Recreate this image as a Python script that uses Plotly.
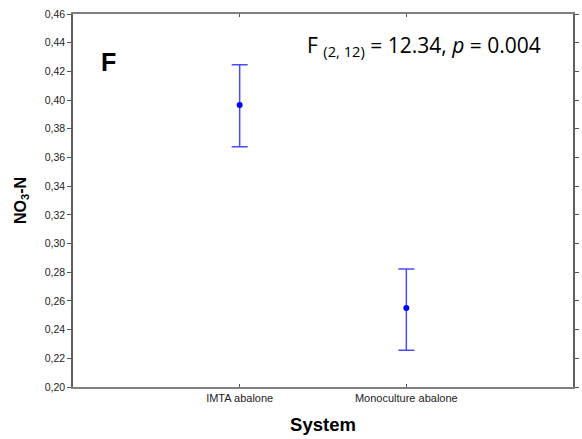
import plotly.graph_objects as go

categories = ["IMTA abalone", "Monoculture abalone"]
means = [0.3965, 0.2551]
upper = [0.4246, 0.2823]
lower = [0.3674, 0.2256]
y_ticks = [0.20, 0.22, 0.24, 0.26, 0.28, 0.30, 0.32, 0.34, 0.36, 0.38, 0.40, 0.42, 0.44, 0.46]

xpos = list(range(len(categories)))
err_plus = [u - m for u, m in zip(upper, means)]
err_minus = [m - l for m, l in zip(means, lower)]

fig = go.Figure()
fig.add_trace(go.Scatter(
    x=xpos, y=means, mode="markers",
    marker=dict(color="#0000ff", size=6),
    error_y=dict(type="data", symmetric=False, array=err_plus, arrayminus=err_minus,
                 color="#4a4aff", thickness=1.5, width=8),
    showlegend=False,
))

fig.update_layout(
    width=582, height=439,
    margin=dict(l=73, r=3, t=14, b=52),
    paper_bgcolor="white", plot_bgcolor="white",
    separators=",.",
    font=dict(family="Liberation Sans, Arial, sans-serif", color="black"),
    xaxis=dict(
        range=[-1, 2], tickvals=xpos, ticktext=categories,
        showgrid=False, zeroline=False,
        ticks="inside", ticklen=3, tickcolor="#555",
        tickfont=dict(size=11, color="#222"),
        showline=True, linecolor="#808080", linewidth=2, mirror="allticks",
        title=dict(text="<b>System</b>", font=dict(size=18.5), standoff=15),
    ),
    yaxis=dict(
        range=[0.20, 0.46], tickvals=y_ticks, tickformat=".2f",
        showgrid=False, zeroline=False,
        ticks="outside", ticklen=4, tickcolor="#555",
        tickfont=dict(size=10.5, color="#222"),
        showline=True, linecolor="#606060", linewidth=1.5, mirror="allticks",
        title=dict(text="<b>NO<sub>3</sub>-N</b>", font=dict(size=16), standoff=14),
    ),
)

fig.add_annotation(
    xref="paper", yref="paper", x=0.071, y=0.871, xanchor="center", yanchor="middle",
    text="<b>F</b>", showarrow=False, font=dict(size=25, family="Liberation Sans, Arial"),
)
fig.add_annotation(
    xref="paper", yref="paper", x=0.94, y=0.914, xanchor="right", yanchor="middle",
    text="F <sub>(2, 12)</sub> = 12.34, <i>p</i> = 0.004", showarrow=False,
    font=dict(size=21, family="Open Sans, Liberation Sans, sans-serif"),
)

fig.write_html("out.html")
